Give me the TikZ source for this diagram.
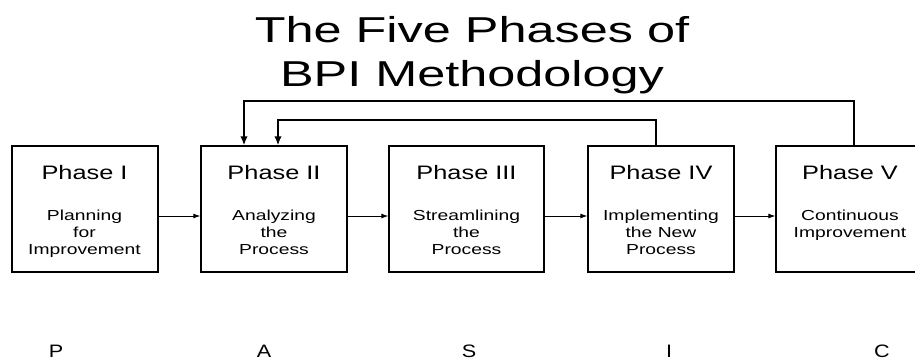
\documentclass[tikz,border=0pt]{standalone}
\usepackage{fontspec}
\setmainfont{Liberation Sans}
\usetikzlibrary{arrows.meta}
\newcommand{\wx}[2]{\scalebox{#1}[1]{#2}}
\begin{document}
\begin{tikzpicture}[x=1pt,y=-1pt,
  phasebox/.style={draw, line width=1.3pt, inner sep=0pt, minimum height=126pt},
  flow/.style={line width=0.9pt, -{Latex[length=7pt,width=5pt]}},
  fb/.style={line width=2.2pt, -{Latex[length=9pt,width=7.5pt]}},
  titletxt/.style={anchor=base, inner sep=0pt, font=\fontsize{36}{40}\selectfont},
  phtitle/.style={anchor=base, inner sep=0pt, font=\fontsize{19.5}{23}\selectfont},
  bodytxt/.style={anchor=base, inner sep=0pt, font=\fontsize{14.5}{17}\selectfont},
  lettertxt/.style={anchor=base, inner sep=0pt, font=\fontsize{18}{20}\selectfont}]
\useasboundingbox (0,0) rectangle (915,360);
\clip (0,0) rectangle (915,360);

% title
\node[titletxt] (t1) at (472,42) {\wx{1.4}{The Five Phases of}};
\node[titletxt] (t2) at (472,86) {\wx{1.4}{BPI Methodology}};

% boxes
\node[phasebox, minimum width=146pt] (b1) at (85,209) {};
\node[phasebox, minimum width=146pt] (b2) at (274,209) {};
\node[phasebox, minimum width=155pt] (b3) at (466.5,209) {};
\node[phasebox, minimum width=146pt] (b4) at (661,209) {};
\node[phasebox, minimum width=146pt] (b5) at (849,209) {};

% phase titles
\node[phtitle] (p1) at (84.5,179) {\wx{1.3}{Phase I}};
\node[phtitle] (p2) at (274,179) {\wx{1.3}{Phase II}};
\node[phtitle] (p3) at (466.5,179) {\wx{1.3}{Phase III}};
\node[phtitle] (p4) at (661,179) {\wx{1.3}{Phase IV}};
\node[phtitle] (p5) at (850,179) {\wx{1.3}{Phase V}};

% body texts
\node[bodytxt] (l11) at (84.5,220) {\wx{1.33}{Planning}};
\node[bodytxt] (l12) at (84.5,237) {\wx{1.33}{for}};
\node[bodytxt] (l13) at (84.5,254) {\wx{1.33}{Improvement}};

\node[bodytxt] (l21) at (274,220) {\wx{1.33}{Analyzing}};
\node[bodytxt] (l22) at (274,237) {\wx{1.33}{the}};
\node[bodytxt] (l23) at (274,254) {\wx{1.33}{Process}};

\node[bodytxt] (l31) at (466.5,220) {\wx{1.33}{Streamlining}};
\node[bodytxt] (l32) at (466.5,237) {\wx{1.33}{the}};
\node[bodytxt] (l33) at (466.5,254) {\wx{1.33}{Process}};

\node[bodytxt] (l41) at (661,220) {\wx{1.33}{Implementing}};
\node[bodytxt] (l42) at (661,237) {\wx{1.33}{the New}};
\node[bodytxt] (l43) at (661,254) {\wx{1.33}{Process}};

\node[bodytxt] (l51) at (850,220) {\wx{1.33}{Continuous}};
\node[bodytxt] (l52) at (850,237) {\wx{1.33}{Improvement}};

% forward arrows
\draw[flow] ([yshift=-7pt]b1.east) -- ([yshift=-7pt]b2.west);
\draw[flow] ([yshift=-7pt]b2.east) -- ([yshift=-7pt]b3.west);
\draw[flow] ([yshift=-7pt]b3.east) -- ([yshift=-7pt]b4.west);
\draw[flow] ([yshift=-7pt]b4.east) -- ([yshift=-7pt]b5.west);

% feedback arrows
\draw[fb] ([xshift=5pt]b5.north) -- ++(0,-44) -| ([xshift=-30pt]b2.north);
\draw[fb] ([xshift=-5pt]b4.north) -- ++(0,-25) -| ([xshift=4pt]b2.north);

% letters
\node[lettertxt] (lp) at (56,357) {\wx{1.2}{P}};
\node[lettertxt] (la) at (264,357) {\wx{1.2}{A}};
\node[lettertxt] (ls) at (469,357) {\wx{1.2}{S}};
\node[lettertxt] (li) at (669,357) {\wx{1.2}{I}};
\node[lettertxt] (lc) at (882,357) {\wx{1.2}{C}};
\end{tikzpicture}
\end{document}
